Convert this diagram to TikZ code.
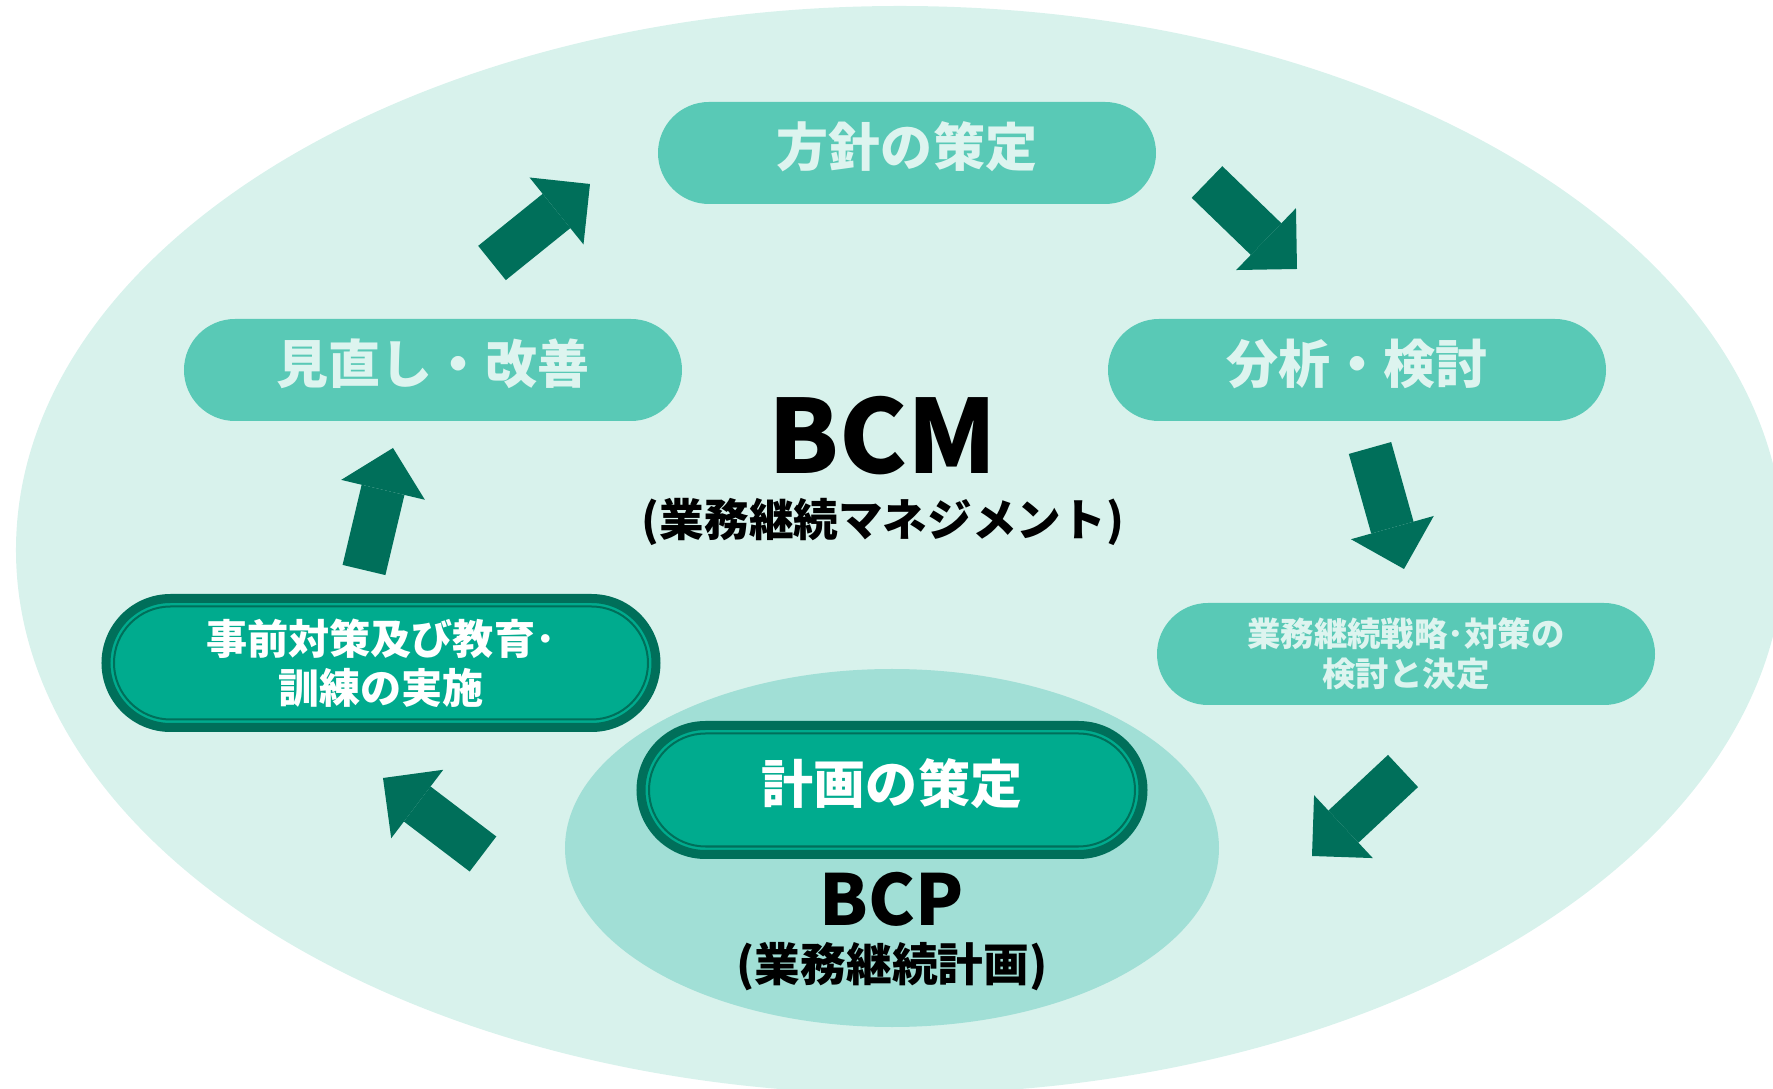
\documentclass[tikz,border=0pt]{standalone}
\usepackage{fontspec}
\setmainfont{Noto Sans CJK JP}
\usetikzlibrary{positioning, shapes.geometric, shapes.misc, arrows.meta}

\definecolor{bgmint}{HTML}{D8F2EC}
\definecolor{zonemint}{HTML}{A1DFD6}
\definecolor{pillmint}{HTML}{59C9B6}
\definecolor{pilltext}{HTML}{DDF4EF}
\definecolor{darkfill}{HTML}{00AB8E}
\definecolor{darkgreen}{HTML}{006F5A}

\begin{document}
\begin{tikzpicture}[
    node distance=1cm,
    on grid,
    zone/.style={ellipse, inner sep=0pt},
    lightpill/.style={rounded rectangle, fill=pillmint, text=pilltext, minimum width=4.98cm, minimum height=1.02cm, inner sep=0pt, align=center, font=\bfseries\fontsize{14.8pt}{18pt}\selectfont},
    darkpill/.style={rounded rectangle, fill=darkfill, draw=darkgreen, line width=0.09cm, text=white, minimum height=1.29cm, inner sep=0pt, align=center, font=\bfseries\fontsize{14.8pt}{18pt}\selectfont},
    pillring/.style={rounded rectangle, draw=darkgreen, line width=0.02cm, minimum height=1.13cm, inner sep=0pt},
    lifted/.style={text depth=0.18cm},
    title/.style={inner sep=0pt, font=\bfseries\fontsize{29pt}{34pt}\selectfont},
    subtitle/.style={inner sep=0pt, font=\bfseries\fontsize{12.7pt}{15pt}\selectfont},
    flow/.style={darkgreen, line width=0.44cm, -{Triangle[width=0.86cm, length=0.43cm, line width=0pt]}}
    ]
    \useasboundingbox (-8.83,4.36) rectangle (8.90,-6.53);
    \clip (-8.83,4.36) rectangle (8.90,-6.53);
    % Zones
    \node[zone, fill=bgmint, minimum width=17.68cm, minimum height=10.88cm] (bcmzone) at (0.17,-1.14) {};
    \node[zone, fill=zonemint, minimum width=6.54cm, minimum height=3.58cm] (bcpzone) at (0.09,-4.12) {};
    % Nodes
    \node[title] (bcm) at (0,0) {BCM};
    \node[subtitle] (bcmsub) [below=0.86cm of bcm] {(業務継続マネジメント)};
    \node[lightpill, lifted] (policy) [above right=2.83cm and 0.24cm of bcm] {方針の策定};
    \node[lightpill, lifted] (review) [above left=0.66cm and 4.50cm of bcm] {見直し・改善};
    \node[lightpill, lifted] (analysis) [right=9.24cm of review] {分析・検討};
    \node[lightpill, font=\bfseries\fontsize{9.5pt}{11.4pt}\selectfont] (strategy) [below right=2.84cm and 0.49cm of analysis] {業務継続戦略･対策の\\検討と決定};
    \node[darkpill, minimum width=5.50cm, font=\bfseries\fontsize{11.7pt}{14pt}\selectfont] (prep) [below left=2.93cm and 0.52cm of review] {事前対策及び教育･\\訓練の実施};
    \node[pillring, minimum width=5.34cm] (prepring) at (prep) {};
    \node[darkpill, lifted] (plan) [above=0.58cm of bcpzone, minimum width=5.02cm] {計画の策定};
    \node[pillring, minimum width=4.86cm] (planring) at (plan) {};
    \node[title, font=\bfseries\fontsize{20pt}{24pt}\selectfont] (bcp) [below=0.51cm of bcpzone] {BCP};
    \node[subtitle, font=\bfseries\fontsize{13pt}{16pt}\selectfont] (bcpsub) [below=0.68cm of bcp] {(業務継続計画)};
    % Arrow ends
    \coordinate (review-out) at (-3.91,1.73);
    \coordinate (policy-in) at (-2.93,2.52);
    \coordinate (policy-out) at (3.24,2.54);
    \coordinate (analysis-in) at (4.14,1.67);
    \coordinate (analysis-out) at (4.87,-0.12);
    \coordinate (strategy-in) at (5.21,-1.33);
    \coordinate (strategy-out) at (5.20,-3.35);
    \coordinate (plan-in) at (4.29,-4.20);
    \coordinate (plan-out) at (-4.00,-4.18);
    \coordinate (prep-in) at (-5.00,-3.42);
    \coordinate (prep-out) at (-5.19,-1.34);
    \coordinate (review-in) at (-4.90,-0.12);
    % Edges
    \draw[flow] (review-out) -- (policy-in);
    \draw[flow] (policy-out) -- (analysis-in);
    \draw[flow] (analysis-out) -- (strategy-in);
    \draw[flow] (strategy-out) -- (plan-in);
    \draw[flow] (plan-out) -- (prep-in);
    \draw[flow] (prep-out) -- (review-in);
\end{tikzpicture}
\end{document}
